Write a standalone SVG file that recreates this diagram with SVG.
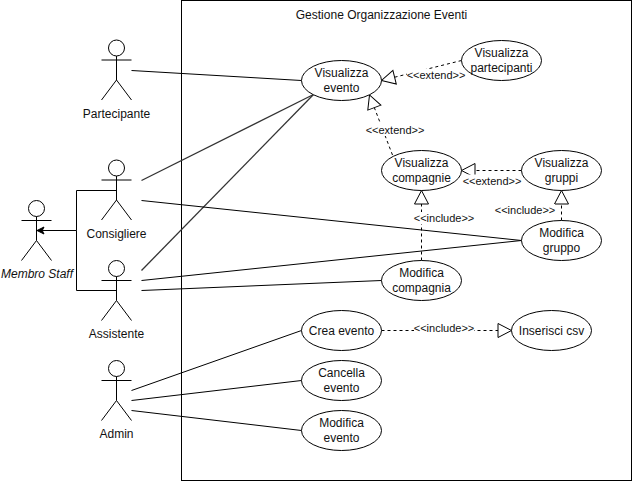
<svg xmlns="http://www.w3.org/2000/svg" width="632" height="482" viewBox="0 0 632 482">
<style>
text{font-family:"Liberation Sans",Arial,sans-serif;font-size:12px;fill:#111;text-anchor:middle}
.lbl{font-size:11px}
.c,.d{fill:none;stroke:#000;stroke-width:1}
.g{stroke:#333;stroke-width:1.3}
.d{stroke-dasharray:3 3;marker-end:url(#tri)}
.b{fill:#fff}
ellipse{fill:#fff;stroke:#000;stroke-width:1}
#system{fill:#fff;stroke:#000;stroke-width:1}
</style>
<defs>
<marker id="tri" markerUnits="userSpaceOnUse" markerWidth="18" markerHeight="20" viewBox="-16 -9 18 18" refX="0" refY="0" orient="auto"><path d="M0 0L-13.5 -7V7Z" fill="#fff" stroke="#000" stroke-width="1"/></marker>
<marker id="blk" markerUnits="userSpaceOnUse" markerWidth="10" markerHeight="10" viewBox="-8 -5 10 10" refX="0" refY="0" orient="auto"><path d="M0 0L-7 -3.5L-5.25 0L-7 3.5Z" fill="#000" stroke="#000" stroke-width="1"/></marker>
<g id="actor"><circle cx="0" cy="8" r="8" fill="#fff" stroke="#000"/><path d="M0 16V40M-15 20H15M0 40L-15 60M0 40L15 60" fill="none" stroke="#000"/></g>
</defs>
<g id="system-boundary"><rect id="system" x="181.5" y="0.5" width="450" height="480"/><text x="381.5" y="19">Gestione Organizzazione Eventi</text></g>
<g id="connectors">
<path class="c" d="M131.5 70.5L301.5 80.5"/>
<path class="c g" d="M141.5 180.5L313.5 94.5"/>
<path class="c g" d="M141.5 270.5L313.5 94.5"/>
<path class="c" d="M141.5 200.5L521.5 240.5"/>
<path class="c" d="M141.5 280.5L521.5 240.5"/>
<path class="c" d="M141.5 290.5L381.5 280.5"/>
<path class="c" d="M131.5 390.5L301.5 330.5"/>
<path class="c" d="M131.5 400.5L301.5 380.5"/>
<path class="c" d="M131.5 410.5L301.5 430.5"/>
<path class="c" d="M116.5 190.5H76.5V230.5"/>
<path class="c" d="M116.5 290.5H76.5V230.5H37" marker-end="url(#blk)"/>
<path class="d" d="M461.5 60.5L381.5 80.5"/>
<path class="d" d="M392.5 155L369.5 95"/>
<path class="d" d="M521.5 170.5H461.5"/>
<path class="d" d="M421.5 260.5V190.5"/>
<path class="d" d="M561.5 220.5V190.5"/>
<path class="d" d="M381.5 330.5H511.5"/>
<rect class="b" x="407" y="69" width="58" height="12"/><text class="lbl" x="436" y="79">&lt;&lt;extend&gt;&gt;</text>
<rect class="b" x="366" y="124" width="58" height="12"/><text class="lbl" x="395" y="134">&lt;&lt;extend&gt;&gt;</text>
<rect class="b" x="463" y="174.5" width="58" height="12"/><text class="lbl" x="492" y="184.5">&lt;&lt;extend&gt;&gt;</text>
<rect class="b" x="414" y="212" width="60" height="12"/><text class="lbl" x="444" y="222">&lt;&lt;include&gt;&gt;</text>
<rect class="b" x="495" y="204" width="60" height="12"/><text class="lbl" x="525" y="214">&lt;&lt;include&gt;&gt;</text>
<rect class="b" x="414" y="322" width="60" height="12"/><text class="lbl" x="444" y="332">&lt;&lt;include&gt;&gt;</text>
</g>
<g id="partecipante"><use href="#actor" x="116.5" y="40"/><text x="116.5" y="118">Partecipante</text></g>
<g id="consigliere"><use href="#actor" x="116.5" y="160"/><text x="116.5" y="238">Consigliere</text></g>
<g id="assistente"><use href="#actor" x="116.5" y="260.5"/><text x="116.5" y="338">Assistente</text></g>
<g id="admin"><use href="#actor" x="116.5" y="360.5"/><text x="116.5" y="438">Admin</text></g>
<g id="membro-staff"><use href="#actor" x="36.5" y="200.5"/><text x="37" y="278" font-style="italic">Membro Staff</text></g>
<g id="visualizza-evento"><ellipse cx="341.5" cy="80.5" rx="40" ry="20"/><text x="341.5" y="77">Visualizza<tspan x="341.5" dy="15">evento</tspan></text></g>
<g id="visualizza-partecipanti"><ellipse cx="501.5" cy="60.5" rx="40" ry="20"/><text x="501.5" y="57">Visualizza<tspan x="501.5" dy="15">partecipanti</tspan></text></g>
<g id="visualizza-compagnie"><ellipse cx="421.5" cy="170.5" rx="40" ry="20"/><text x="421.5" y="167">Visualizza<tspan x="421.5" dy="15">compagnie</tspan></text></g>
<g id="visualizza-gruppi"><ellipse cx="561.5" cy="170.5" rx="40" ry="20"/><text x="561.5" y="167">Visualizza<tspan x="561.5" dy="15">gruppi</tspan></text></g>
<g id="modifica-gruppo"><ellipse cx="561.5" cy="240.5" rx="40" ry="20"/><text x="561.5" y="237">Modifica<tspan x="561.5" dy="15">gruppo</tspan></text></g>
<g id="modifica-compagnia"><ellipse cx="421.5" cy="280.5" rx="40" ry="20"/><text x="421.5" y="277">Modifica<tspan x="421.5" dy="15">compagnia</tspan></text></g>
<g id="crea-evento"><ellipse cx="341.5" cy="330.5" rx="40" ry="20"/><text x="341.5" y="334.5">Crea evento</text></g>
<g id="inserisci-csv"><ellipse cx="551.5" cy="330.5" rx="40" ry="20"/><text x="551.5" y="334.5">Inserisci csv</text></g>
<g id="cancella-evento"><ellipse cx="341.5" cy="380.5" rx="40" ry="20"/><text x="341.5" y="377">Cancella<tspan x="341.5" dy="15">evento</tspan></text></g>
<g id="modifica-evento"><ellipse cx="341.5" cy="430.5" rx="40" ry="20"/><text x="341.5" y="427">Modifica<tspan x="341.5" dy="15">evento</tspan></text></g>
</svg>
